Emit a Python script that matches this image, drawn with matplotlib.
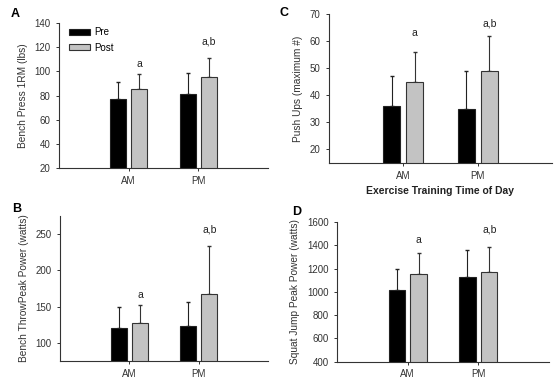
import numpy as np
import matplotlib
matplotlib.use("Agg")
import matplotlib.pyplot as plt

plt.rcParams['font.family'] = ['Liberation Sans', 'DejaVu Sans']

times = ["AM", "PM"]
groups = ["Pre", "Post"]

# A: bench press 1RM
bench_pre = [77, 81]
bench_post = [85, 95]
bench_pre_sd = [14, 18]
bench_post_sd = [13, 16]

# B: bench throw peak power
throw_pre = [120, 123]
throw_post = [128, 168]
throw_pre_sd = [30, 34]
throw_post_sd = [24, 65]

# C: push ups
push_pre = [36, 35]
push_post = [45, 49]
push_pre_sd = [11, 14]
push_post_sd = [11, 13]

# D: squat jump peak power
squat_pre = [1017, 1126]
squat_post = [1152, 1169]
squat_pre_sd = [183, 236]
squat_post_sd = [184, 216]

sig_marks = ["a", "a,b"]

fig = plt.figure(figsize=(5.54, 3.78), dpi=100)

def panel(rect, pre, post, pre_sd, post_sd, ylim, yticks, ylabel, letter,
          letter_xy, mark_y, xlabel=None):
    ax = fig.add_axes(rect)
    x = np.array([1, 2])
    w = 0.23
    off = 0.155
    ax.bar(x - off, pre, w, color="black", edgecolor="#222222", lw=0.8,
           label=groups[0], zorder=2)
    ax.bar(x + off, post, w, color="#c3c3c3", edgecolor="#333333", lw=0.8,
           label=groups[1], zorder=2)
    ax.errorbar(x - off, pre, yerr=[np.zeros(2), pre_sd], fmt="none",
                ecolor="#222222", elinewidth=0.8, capsize=1.5, zorder=1)
    ax.errorbar(x + off, post, yerr=[np.zeros(2), post_sd], fmt="none",
                ecolor="#333333", elinewidth=0.8, capsize=1.5, zorder=1)
    for xi, m, yy in zip(x + off, sig_marks, mark_y):
        ax.text(xi, yy, m, ha="center", va="center", fontsize=7.5, color="#222222")
    ax.set_xlim(0, 3)
    ax.set_ylim(*ylim)
    ax.set_yticks(yticks)
    ax.set_xticks(x)
    ax.set_xticklabels(times)
    ax.spines["top"].set_visible(False)
    ax.spines["right"].set_visible(False)
    for s in ["left", "bottom"]:
        ax.spines[s].set_linewidth(0.8)
        ax.spines[s].set_color("#333333")
    ax.tick_params(labelsize=7, length=2.5, width=0.7, colors="#333333",
                   labelcolor="#333333")
    ax.tick_params(axis="x", pad=3)
    ax.set_ylabel(ylabel, fontsize=7.3, color="#333333", labelpad=5)
    if xlabel:
        ax.set_xlabel(xlabel, fontsize=7.5, fontweight="bold", color="#222222",
                      labelpad=4)
    fig.text(letter_xy[0] / 554, 1 - letter_xy[1] / 378, letter, fontsize=9,
             fontweight="bold", ha="center", va="center")
    return ax

axA = panel([59 / 554, 210 / 378, 209 / 554, 145 / 378],
            bench_pre, bench_post, bench_pre_sd, bench_post_sd,
            (20, 140), range(20, 141, 20), "Bench Press 1RM (lbs)", "A",
            (15, 14), [106, 125])
axA.legend(loc="upper left", bbox_to_anchor=(0.02, 1.01), frameon=False,
           fontsize=7, handlelength=2.2, handleheight=0.55, labelspacing=0.55,
           handletextpad=0.4, borderaxespad=0.2)

panel([60 / 554, 17 / 378, 208 / 554, 145 / 378],
      throw_pre, throw_post, throw_pre_sd, throw_post_sd,
      (75, 275), range(100, 251, 50), "Bench ThrowPeak Power (watts)", "B",
      (17, 209), [166, 256])

panel([329 / 554, 215 / 378, 223 / 554, 148.7 / 378],
      push_pre, push_post, push_pre_sd, push_post_sd,
      (15, 70), range(20, 71, 10), "Push Ups (maximum #)", "C",
      (284, 13), [63, 66.6], xlabel="Exercise Training Time of Day")

panel([337 / 554, 16.3 / 378, 212 / 554, 139.7 / 378],
      squat_pre, squat_post, squat_pre_sd, squat_post_sd,
      (400, 1600), range(400, 1601, 200), "Squat Jump Peak Power (watts)", "D",
      (297, 212), [1443, 1538])

fig.savefig("out.png", dpi=100)
